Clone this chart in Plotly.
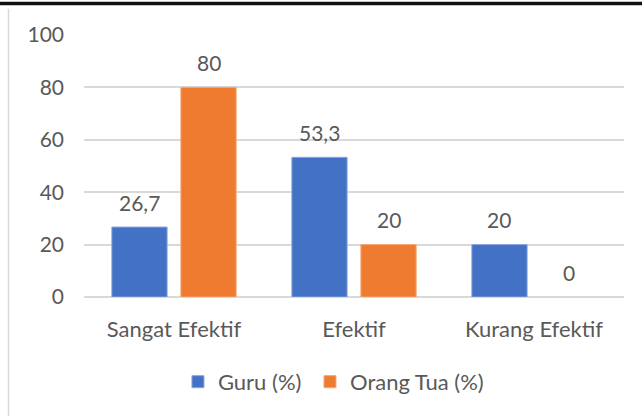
import plotly.graph_objects as go

# data
categories = ["Sangat Efektif", "Efektif", "Kurang Efektif"]
guru = [26.7, 53.3, 20]
orang_tua = [80, 20, 0]
series_names = ["Guru (%)", "Orang Tua (%)"]
y_ticks = [0, 20, 40, 60, 80, 100]

FONT = "Lato"
GREY = "#595959"
BLUE = "#4271C6"
ORANGE = "#EE7B30"


def fmt(v):
    # Excel style labels with comma decimal separator
    s = f"{v:g}"
    return s.replace(".", ",")


def outline(vals):
    # thin light edge, but nothing for empty bars (Excel draws none there)
    return [1 if v else 0 for v in vals]


fig = go.Figure()
fig.add_trace(go.Bar(x=categories, y=guru, name=series_names[0], legend="legend",
                     marker=dict(color=BLUE, line=dict(width=outline(guru), color="#8aa6dc"))))
fig.add_trace(go.Bar(x=categories, y=orang_tua, name=series_names[1], legend="legend2",
                     marker=dict(color=ORANGE, line=dict(width=outline(orang_tua), color="#f4a675"))))

# data labels sit a bit above the bar tops, like in Excel
for vals, shift in [(guru, -35), (orang_tua, 35)]:
    for cat, v in zip(categories, vals):
        fig.add_annotation(x=cat, y=v, text=fmt(v), showarrow=False,
                           xshift=shift, yshift=25, yanchor="middle",
                           font=dict(family=FONT, size=21, color=GREY))

# one legend per series so the spacing between the two entries can be set
legend_style = dict(orientation="h", xanchor="left", y=-0.324, yanchor="middle",
                    font=dict(family=FONT, size=22, color=GREY), itemwidth=30)

fig.update_layout(
    width=642, height=416,
    barmode="group", bargap=0.233, bargroupgap=0.2,
    plot_bgcolor="white", paper_bgcolor="white",
    margin=dict(l=84, r=18, t=35, b=119),
    font=dict(family=FONT, size=21, color=GREY),
    showlegend=True,
    legend=dict(x=0.174, **legend_style),
    legend2=dict(x=0.4185, **legend_style),
    shapes=[
        dict(type="line", xref="paper", yref="paper", x0=-0.2, x1=1.1, y0=1.12, y1=1.12,
             line=dict(color="#111111", width=3.5)),
        dict(type="line", xref="paper", yref="paper", x0=-0.1398, x1=-0.1398, y0=-0.5, y1=1.1,
             line=dict(color="#d9d9d9", width=1.5)),
    ],
)
fig.update_xaxes(showgrid=False, showline=False, ticks="", ticklabelstandoff=17,
                 tickfont=dict(family=FONT, size=22, color=GREY))
fig.update_yaxes(range=[0, 100], tickvals=y_ticks, showgrid=True, gridcolor="#d9d9d9",
                 gridwidth=1.5, zeroline=True, zerolinecolor="#d9d9d9", zerolinewidth=1.5,
                 showline=False, ticks="", ticklabelstandoff=19,
                 tickfont=dict(family=FONT, size=21, color=GREY))

# drop the default page margin so the chart sits at the window origin
fig.write_html("out.html", config={"displayModeBar": False},
               post_script="document.body.style.margin='0';")
